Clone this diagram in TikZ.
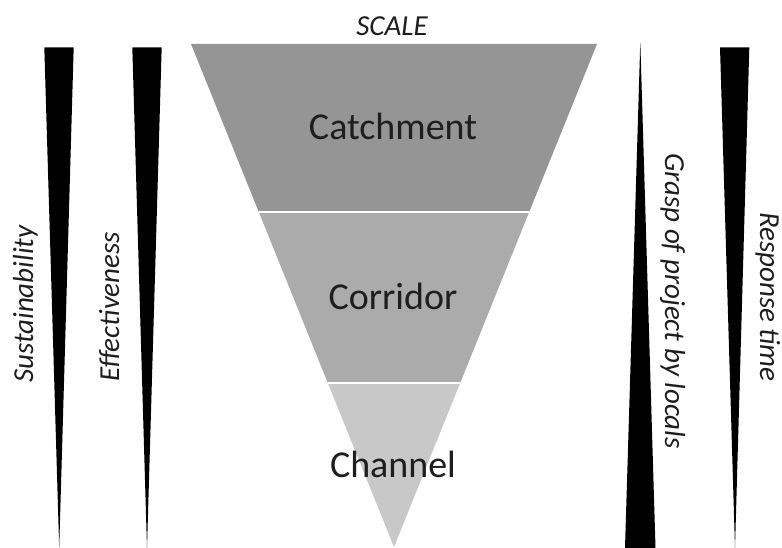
\documentclass[tikz,border=0pt]{standalone}
\usepackage{fontspec}
\setmainfont{Carlito}
\definecolor{bandA}{HTML}{959595}
\definecolor{bandB}{HTML}{ABABAB}
\definecolor{bandC}{HTML}{C8C8C8}
\definecolor{txt}{HTML}{1E1E1E}
\tikzset{
  wedge/.style={fill=black},
  bandlabel/.style={inner sep=0pt, anchor=base, text=txt, font=\fontsize{38}{40}\selectfont},
  sidelabel/.style={inner sep=0pt, text=txt, font=\itshape\fontsize{29}{31}\selectfont},
}
\begin{document}
\begin{tikzpicture}[x=1pt,y=1pt]
\useasboundingbox (0,0) rectangle (782,548);
% funnel
\begin{scope}
  \clip (191,504) -- (597,504) -- (394,1) -- cycle;
  \fill[bandA] (150,336) rectangle (650,510);
  \fill[bandB] (150,165) rectangle (650,336);
  \fill[bandC] (150,0) rectangle (650,165);
  \draw[white, line width=2.5pt] (150,336) -- (650,336);
  \draw[white, line width=2.5pt] (150,165) -- (650,165);
\end{scope}
% wedges
\fill[wedge] (44.3,500.7) -- (73.7,500.7) -- (59.2,0) -- cycle;
\fill[wedge] (132.3,500.7) -- (161.7,500.7) -- (147,0) -- cycle;
\fill[wedge] (640.3,506) -- (655.5,0) -- (625,0) -- cycle;
\fill[wedge] (720,500.7) -- (749.3,500.7) -- (735,0) -- cycle;
% labels
\node[sidelabel, anchor=base] (scale) at (392,512) {SCALE};
\node[bandlabel] (catch) at (393,408) {Catchment};
\node[bandlabel] (corr) at (393,238) {Corridor};
\node[bandlabel] (chan) at (393,70) {Channel};
\node[sidelabel, rotate=90, anchor=base west] (sust) at (33,165) {Sustainability};
\node[sidelabel, rotate=90, anchor=base west] (eff) at (119,166) {Effectiveness};
\node[sidelabel, rotate=-90, anchor=base west] (grasp) at (665,395) {Grasp of project by locals};
\node[sidelabel, rotate=-90, anchor=base east] (resp) at (760,166) {Response time};
\end{tikzpicture}
\end{document}
